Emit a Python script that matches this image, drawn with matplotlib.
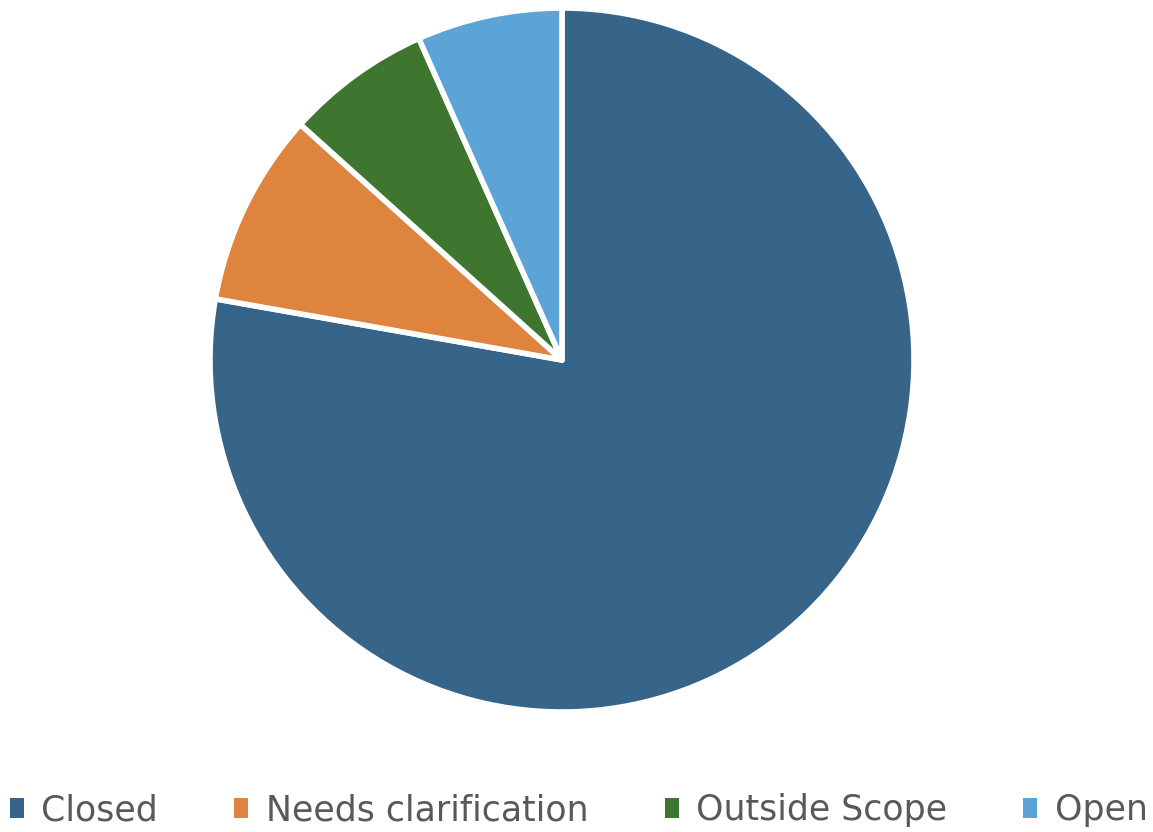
import matplotlib
matplotlib.use("Agg")
import matplotlib.pyplot as plt
from matplotlib.patches import Patch

#====================== DATA =========================

labels = ["Closed", "Needs clarification", "Outside Scope", "Open"]
counts = [35, 4, 3, 3]
colors = ["#376489", "#DE843F", "#3E7630", "#5CA3D8"]

#====================== PLOT =========================

plt.rcParams['font.family'] = ['DejaVu Sans']

fig = plt.figure(figsize=(11.53, 8.32), dpi=100)
r_px = 352
cx, cy = 562, 360
ax = fig.add_axes([(cx - r_px) / 1153, (832 - cy - r_px) / 832, 2 * r_px / 1153, 2 * r_px / 832])

ax.pie(counts, colors=colors, startangle=90, counterclock=False,
       wedgeprops=dict(edgecolor="white", linewidth=4, joinstyle="round"), radius=1.0)
ax.set_xlim(-1, 1)
ax.set_ylim(-1, 1)
ax.set_aspect("equal")
ax.axis("off")

handles = [Patch(facecolor=c, edgecolor="none") for c in colors]
fig.legend(handles, labels, loc="lower center", ncol=4, bbox_to_anchor=(0.502, -0.032),
           frameon=False, fontsize=25, handlelength=0.4, handleheight=0.5,
           handletextpad=0.5, columnspacing=2.2, labelcolor="#595959")

plt.savefig("out.png", dpi=100)
